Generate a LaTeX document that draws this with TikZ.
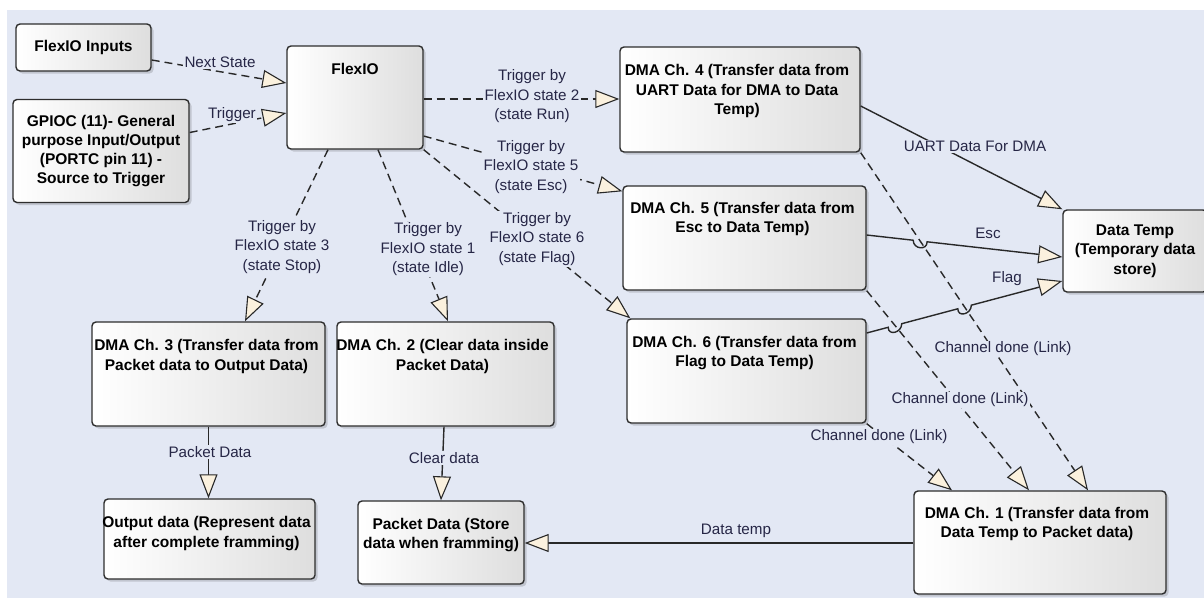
\documentclass[tikz,border=0pt]{standalone}
\usepackage{fontspec}
\setmainfont{Liberation Sans}
\usetikzlibrary{arrows.meta,shadows,calc,intersections}

\definecolor{canvas}{RGB}{227,232,244}
\definecolor{tipfill}{RGB}{251,241,222}
\definecolor{edgeline}{RGB}{40,40,40}
\definecolor{boxedge}{RGB}{45,45,45}
\definecolor{boxmid}{RGB}{246,246,246}
\definecolor{boxshade}{RGB}{222,222,222}
\definecolor{labelink}{RGB}{38,38,70}

\begin{document}
\begin{tikzpicture}[x=1pt,y=-1pt,
  box/.style={draw=boxedge, line width=1.4pt, rounded corners=4pt,
    left color=white, middle color=boxmid, right color=boxshade,
    drop shadow={shadow xshift=2.5pt, shadow yshift=-2.5pt, opacity=0.22, fill=black!70},
    inner sep=0pt, align=center,
    font=\fontsize{15.5}{19.3}\selectfont\bfseries},
  title/.style={inner sep=0pt, anchor=north, align=center,
    font=\fontsize{15.5}{19.3}\selectfont\bfseries},
  lbl/.style={fill=canvas, inner sep=1.2pt, text=labelink, align=center,
    font=\fontsize{15.2}{19.5}\selectfont},
  flow/.style={draw=edgeline, line width=1.4pt,
    -{Triangle[length=24pt,width=18pt,fill=tipfill,line width=1.1pt]}},
  trig/.style={flow, dash pattern=on 8pt off 5pt},
]
\useasboundingbox (0,0) rectangle (1204,598);
\clip (0,0) rectangle (1204,598);
\fill[white] (0,0) rectangle (1204,598);
\fill[canvas] (7,10) rectangle (1204,598);

% ---- blocks ----
\node[box, minimum width=135pt, minimum height=47pt] (inputs) at (83.5,47.5) {FlexIO Inputs};
\node[box, minimum width=176pt, minimum height=103pt] (gpioc) at (101,151)
  {GPIOC (11)- General\\purpose Input/Output\\(PORTC pin 11) -\\Source to Trigger};
\node[box, minimum width=136pt, minimum height=103pt] (flexio) at (355,97.5) {};
\node[box, minimum width=240pt, minimum height=105pt] (dma4) at (740,99.5) {};
\node[box, minimum width=243pt, minimum height=104pt] (dma5) at (744.5,238) {};
\node[box, minimum width=239pt, minimum height=104pt] (dma6) at (746.5,371) {};
\node[box, minimum width=144pt, minimum height=82pt] (datatemp) at (1135,251)
  {Data Temp\\(Temporary data\\store)};
\node[box, minimum width=252pt, minimum height=103pt] (dma1) at (1040,542.5) {};
\node[box, minimum width=233pt, minimum height=104pt] (dma3) at (208.5,374) {};
\node[box, minimum width=217pt, minimum height=104pt] (dma2) at (445.5,374) {};
\node[box, minimum width=211pt, minimum height=80pt] (output) at (209.5,539) {};
\node[box, minimum width=166pt, minimum height=83pt] (packet) at (441,542.5) {};

% ---- block titles (top aligned) ----
\node[title] (tflexio) at ($(flexio.north)+(0,18)$) {FlexIO};
\node[title] (tdma4) at ($(dma4.north)+(-3,18)$) {DMA Ch. 4 (Transfer data from\\UART Data for DMA to Data\\Temp)};
\node[title] (tdma5) at ($(dma5.north)+(-2,16.5)$) {DMA Ch. 5 (Transfer data from\\Esc to Data Temp)};
\node[title] (tdma6) at ($(dma6.north)+(-2,17.5)$) {DMA Ch. 6 (Transfer data from\\Flag to Data Temp)};
\node[title] (tdma1) at ($(dma1.north)+(-3,16.5)$) {DMA Ch. 1 (Transfer data from\\Data Temp to Packet data)};
\node[title] (tdma3) at ($(dma3.north)+(-2,18)$) {DMA Ch. 3 (Transfer data from\\Packet data to Output Data)};
\node[title] (tdma2) at ($(dma2.north)+(-3,18)$) {DMA Ch. 2 (Clear data inside\\Packet Data)};
\node[title] (toutput) at ($(output.north)+(-3,18)$) {Output data (Represent data\\after complete framming)};
\node[title] (tpacket) at ($(packet.north)+(0,17.5)$) {Packet Data (Store\\data when framming)};

% ---- triggers into FlexIO and from FlexIO ----
\draw[trig] ($(inputs.east)+(0,12.5)$) -- ($(flexio.west)+(0,-14.5)$);
\draw[trig] ($(gpioc.east)+(0,-18.5)$) -- ($(flexio.west)+(0,15.5)$);
\draw[trig] ($(flexio.east)+(0,1.5)$) -- ($(dma4.west)+(0,-0.5)$);
\draw[trig] ($(flexio.east)+(0,38.5)$) -- ($(dma5.north west)+(0,6)$);
\draw[trig] (flexio.south east) -- ($(dma6.north west)+(4,0)$);
\draw[trig] ($(flexio.south)+(-27,0)$) -- ($(dma3.north)+(36.5,0)$);
\draw[trig] ($(flexio.south)+(23,0)$) -- ($(dma2.north)+(2.5,0)$);

% ---- channel links into DMA Ch. 1 ----
\draw[trig, name path=link4] (dma4.south east) -- ($(dma1.north)+(48,0)$);
\draw[trig, name path=link5] (dma5.south east) -- ($(dma1.north)+(-11,0)$);
\draw[trig] (dma6.south east) -- ($(dma1.north)+(-88,0)$);

% ---- data flows into Data Temp (with jumps over the links) ----
\draw[flow] ($(dma4.east)+(0,6.5)$) -- (datatemp.north west);

\coordinate (escA) at ($(dma5.east)+(0,-3)$);
\coordinate (escB) at ($(datatemp.west)+(0,6)$);
\path[name path=escpath] (escA) -- (escB);
\path[name intersections={of=escpath and link4, by=j1}];
\draw[flow] (escA) -- ($(j1)!7pt!(escA)$)
  .. controls +(0,9) and +(0,9) .. ($(j1)!7pt!(escB)$) -- (escB);

\coordinate (flagA) at ($(dma6.east)+(0,-38)$);
\coordinate (flagB) at ($(datatemp.west)+(0,30)$);
\path[name path=flagpath] (flagA) -- (flagB);
\path[name intersections={of=flagpath and link5, by=j2}];
\path[name intersections={of=flagpath and link4, by=j3}];
\draw[flow] (flagA) -- ($(j2)!7pt!(flagA)$)
  .. controls +(0,9) and +(0,9) .. ($(j2)!7pt!(flagB)$)
  -- ($(j3)!7pt!(flagA)$)
  .. controls +(0,9) and +(0,9) .. ($(j3)!7pt!(flagB)$) -- (flagB);

% ---- data flows at the bottom ----
\draw[flow] ($(dma1.west)+(0,0.5)$) -- ($(packet.east)+(0,0.5)$);
\draw[flow] (dma3.south) -- (dma3.south |- output.north);
\draw[flow] ($(dma2.south)+(-1.5,0)$) -- (packet.north);

% ---- connector labels ----
\node[lbl] (lnext) at (220,62) {Next State};
\node[lbl] (ltrig) at (232,115) {Trigger};
\node[lbl] (lrun) at (532,96.5) {Trigger by\\FlexIO state 2\\(state Run)};
\node[lbl] (lesc) at (531,167) {Trigger by\\FlexIO state 5\\(state Esc)};
\node[lbl] (lflag) at (537,239) {Trigger by\\FlexIO state 6\\(state Flag)};
\node[lbl] (lstop) at (282,247) {Trigger by\\FlexIO state 3\\(state Stop)};
\node[lbl] (lidle) at (428,249.5) {Trigger by\\FlexIO state 1\\(state Idle)};
\node[lbl] (luart) at (975,146) {UART Data For DMA};
\node[lbl] (lescd) at (988,233) {Esc};
\node[lbl] (lflagd) at (1007,279) {Flag};
\node[lbl] (lch4) at (1003,349) {Channel done (Link)};
\node[lbl] (lch5) at (960,400) {Channel done (Link)};
\node[lbl] (lch6) at (879,437) {Channel done (Link)};
\node[lbl] (ltemp) at (736,531) {Data temp};
\node[lbl] (lpacket) at (210,452) {Packet Data};
\node[lbl] (lclear) at (444,458) {Clear data};
\end{tikzpicture}
\end{document}
